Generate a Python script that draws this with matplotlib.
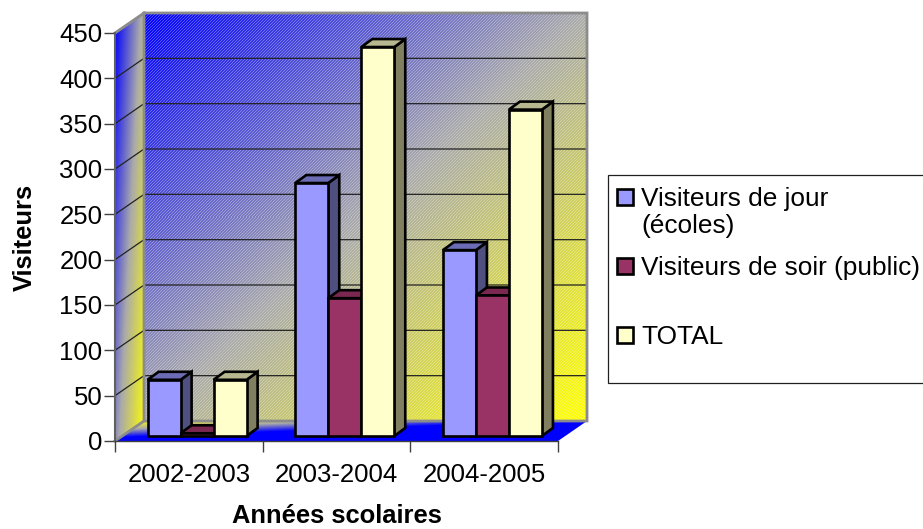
import numpy as np
import matplotlib
matplotlib.use('Agg')
import matplotlib.pyplot as plt
from matplotlib.patches import Polygon, Rectangle

plt.rcParams['font.family'] = ['Liberation Sans', 'DejaVu Sans']

annees = ['2002-2003', '2003-2004', '2004-2005']
jour = [62, 279, 205]
soir = [3, 152, 155]
total = [62, 429, 360]
noms = ['Visiteurs de jour\n(écoles)', 'Visiteurs de soir (public)', 'TOTAL']
yticks = list(range(0, 451, 50))

# couleurs : face, dessus, cote
couleurs = [('#9999ff', '#6c6cb4', '#4f5080'),
            ('#993366', '#7a2850', '#5c1e3e'),
            ('#ffffcc', '#b8b890', '#808060')]

fig = plt.figure(figsize=(9.23, 5.29), dpi=100)
ax = fig.add_axes([115 / 923, 88 / 529, 443 / 923, 408 / 529])
ax.set_xlim(0, 3)
ax.set_ylim(0, 450)

# profondeur du decor et des barres, en unites de donnees
px_x = 3 / 443
px_y = 450 / 408
DX, DY = 29 * px_x, 20 * px_y
BX, BY = 11 * px_x, 8 * px_y
BASE = 5 * px_y
DECAL = 0.556
LARG = 0.2235

BLUE = np.array([0, 0, 255.])
GREY = np.array([170, 170, 170.])
YELLOW = np.array([255, 255, 0.])


def degrade(t, trame=True):
    ''' t in 0..1 : bleu -> gris -> jaune, avec fine trame diagonale'''
    t = np.clip(t, 0, 1)[..., None]
    img = np.where(t < 0.5, BLUE + (GREY - BLUE) * t * 2,
                   GREY + (YELLOW - GREY) * (t - 0.5) * 2)
    if trame:
        i, j = np.indices(t.shape[:2])
        img = np.where(((i + j) % 3 == 0)[..., None], img + (255 - img) * 0.3, img)
    return img / 255.


def paroi(img, extent, poly):
    im = ax.imshow(img, extent=extent, aspect='auto', origin='upper',
                   interpolation='nearest', zorder=0.5)
    p = Polygon(poly, closed=True, transform=ax.transData, fill=False, lw=0)
    ax.add_patch(p)
    # sinon l'image reste coupee au cadre des axes
    im.set_clip_box(fig.bbox)
    im.set_clip_path(p)


# fond
yy, xx = np.mgrid[0:1:408j, 0:1:443j]
paroi(degrade((xx + yy) / 2), (DX, 3 + DX, DY, 450 + DY),
      [(DX, DY), (3 + DX, DY), (3 + DX, 450 + DY), (DX, 450 + DY)])

# paroi gauche
yy, xx = np.mgrid[0:1:428j, 0:1:29j]
paroi(degrade(0.55 * xx + 0.42 * yy, trame=False), (0, DX, 0, 450 + DY),
      [(0, 0), (DX, DY), (DX, 450 + DY), (0, 450)])

# sol
yy, xx = np.mgrid[0:1:20j, 0:1:472j]
paroi(degrade(1 - np.clip(1.1 * xx + 1.2 * yy, 0, 1), trame=False), (0, 3 + DX, 0, DY),
      [(0, 0), (3, 0), (3 + DX, DY), (DX, DY)])

# grille
for v in yticks[1:]:
    ax.plot([0, DX, 3 + DX], [v, v + DY, v + DY], color='#222222', lw=0.9,
            clip_on=False, zorder=1)

# cadre gris
ax.plot([0, DX, 3 + DX, 3 + DX, DX, DX], [450, 450 + DY, 450 + DY, DY, DY, 450 + DY],
        color='#8c8c8c', lw=2, clip_on=False, zorder=1.2, solid_joinstyle='miter')
ax.plot([0, DX], [0, DY], color='#8c8c8c', lw=2, clip_on=False, zorder=1.2)

# barres
zo = 2
for g in range(len(annees)):
    for s, vals in enumerate([jour, soir, total]):
        face, dessus, cote = couleurs[s]
        x0 = g + DECAL + (s - 1.5) * LARG
        x1 = x0 + LARG
        h = vals[g]
        top = BASE + h
        ax.add_patch(Polygon([(x1, BASE), (x1 + BX, BASE + BY), (x1 + BX, top + BY), (x1, top)],
                             fc=cote, ec='black', lw=1.9, zorder=zo, clip_on=False))
        ax.add_patch(Polygon([(x0, top), (x0 + BX, top + BY), (x1 + BX, top + BY), (x1, top)],
                             fc=dessus, ec='black', lw=1.9, zorder=zo, clip_on=False))
        ax.bar(x0, h, width=LARG, bottom=BASE, align='edge', color=face, edgecolor='black',
               linewidth=1.9, zorder=zo, clip_on=False)
        zo += 0.1

ax.set_xlim(0, 3)
ax.set_ylim(0, 450)

# axes
for nom in ['top', 'right']:
    ax.spines[nom].set_visible(False)
ax.spines['left'].set_color('#606060')
ax.spines['left'].set_linewidth(1.5)
ax.spines['bottom'].set_color('#404040')
ax.spines['bottom'].set_linewidth(1)
ax.set_yticks(yticks)
ax.set_xticks([0, 1, 2, 3])
ax.set_xticklabels([])
ax.set_xticks([0.5, 1.5, 2.5], annees, minor=True)
ax.tick_params(axis='x', which='major', length=8, width=1, color='#404040')
ax.tick_params(axis='x', which='minor', length=0, labelsize=18.5, pad=16)
ax.tick_params(axis='y', length=8, width=1, color='#404040', labelsize=18.5, pad=1)

fig.text(337 / 923, 1 - 516 / 529, 'Années scolaires', fontsize=18.4, fontweight='bold',
         ha='center', va='center')
fig.text(25 / 923, 1 - 237 / 529, 'Visiteurs', fontsize=18.4, fontweight='bold',
         rotation=90, ha='center', va='center')

# legende
fig.add_artist(Rectangle((608 / 923, 1 - 383 / 529), 330 / 923, 208 / 529, fc='white', ec='#202020',
                         lw=0.9, transform=fig.transFigure))
for s, (nom, yc) in enumerate(zip(noms, [197, 266, 335])):
    fig.add_artist(Rectangle((617 / 923, 1 - (yc + 8) / 529), 16 / 923, 16 / 529, fc=couleurs[s][0],
                             ec='black', lw=1.9, transform=fig.transFigure))
    fig.text(641 / 923, 1 - (yc - 10) / 529, nom, fontsize=18.9, ha='left', va='top', linespacing=1.16)

fig.savefig('out.png', dpi=100)
